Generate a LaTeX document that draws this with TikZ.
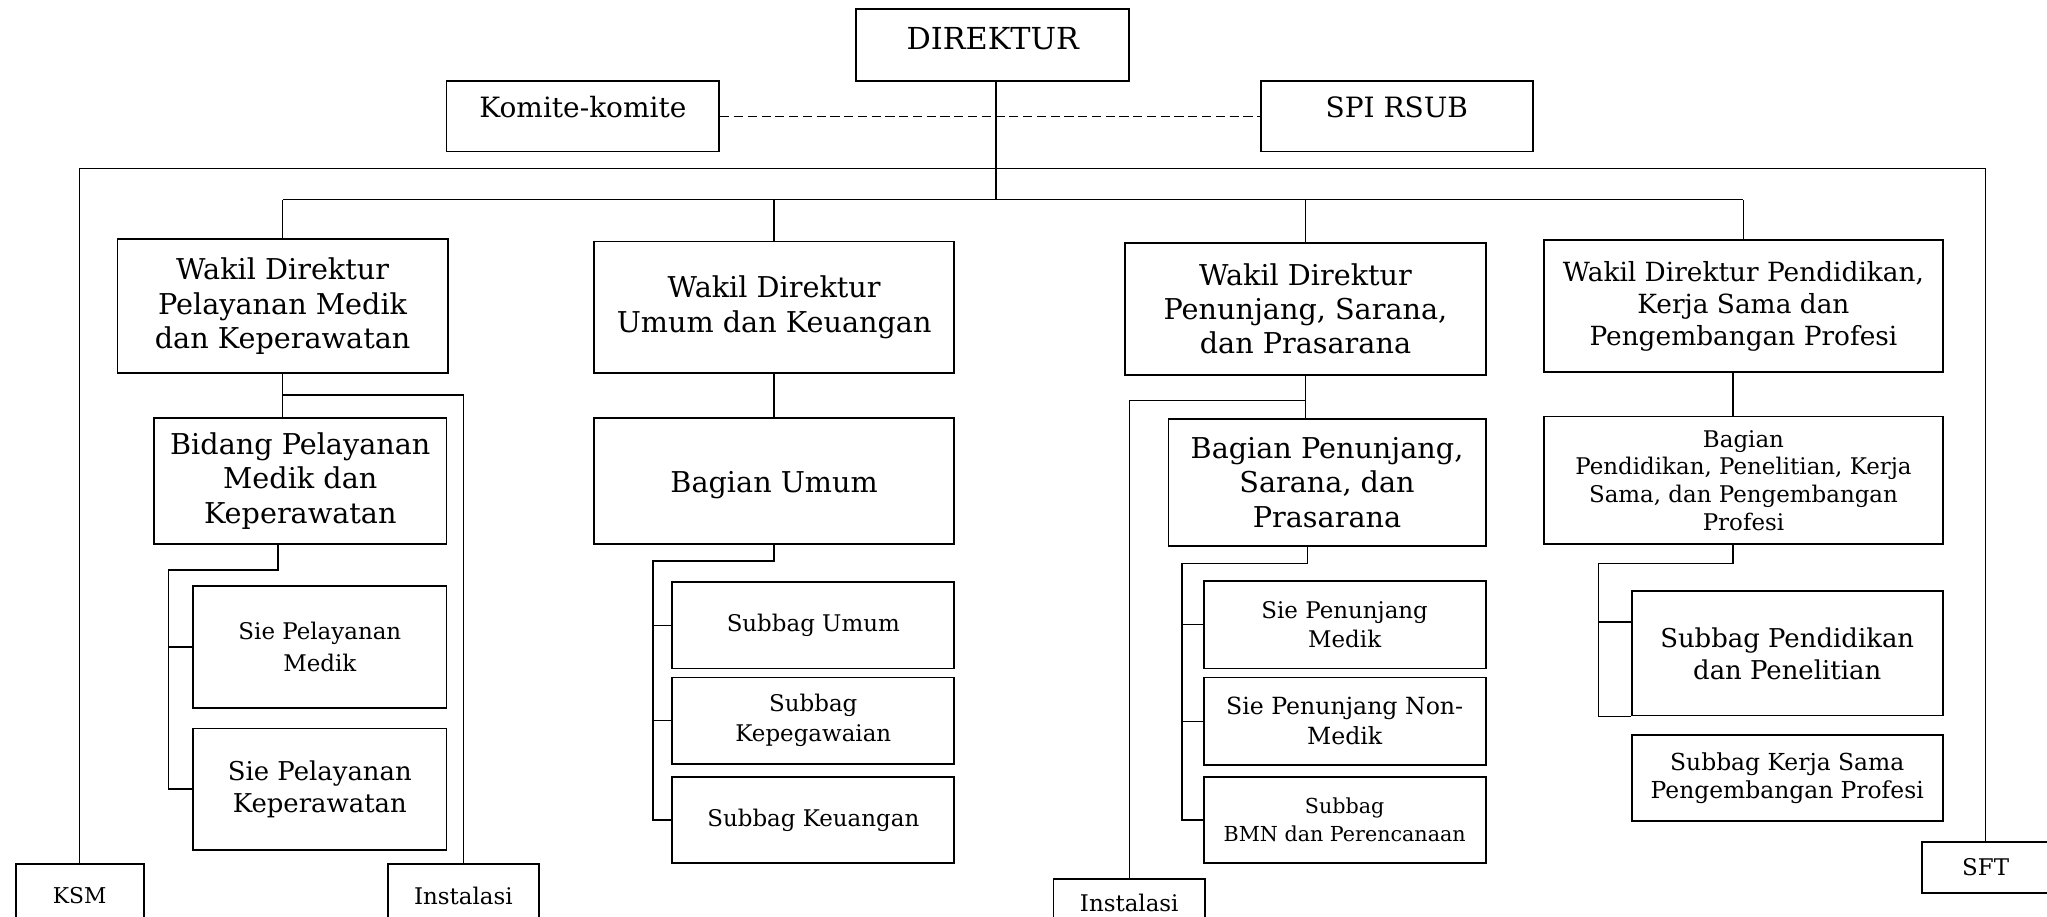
\documentclass[tikz,border=0pt]{standalone}
\usepackage{fontspec}
\setmainfont{DejaVu Serif}
\usetikzlibrary{positioning,calc}

\begin{document}
\begin{tikzpicture}[x=0.2mm,y=-0.2mm,
	box/.style={draw,line width=0.8pt,align=center,inner sep=1pt},
	wh/.style 2 args={minimum width=#1*0.2mm,minimum height=#2*0.2mm},
	big/.style={font=\fontsize{12.5}{15}\selectfont},
	mid/.style={font=\fontsize{11.3}{14}\selectfont},
	small/.style={font=\fontsize{10}{13}\selectfont},
	tiny/.style={font=\fontsize{9}{12}\selectfont},
	link/.style={line width=0.6pt}]
	\useasboundingbox (0,0) rectangle (1568,702);
	\clip (0,0) rectangle (1568,702);
	% top level
	\node[box,font=\fontsize{13.2}{16}\selectfont,text depth=5.5pt,wh={209}{55}] (dir) at (760.5,34.5) {DIREKTUR};
	\node[box,font=\fontsize{12.2}{15}\selectfont,text depth=8pt,wh={209}{54}] (komite) at (446.5,89) {Komite-komite};
	\node[box,font=\fontsize{12.2}{15}\selectfont,text depth=8pt,wh={208}{54}] (spi) at (1070,89) {SPI RSUB};
	% wakil direktur
	\node[box,big,wh={253}{103}] (wd_1) at (216.5,234.5) {Wakil Direktur\\Pelayanan Medik\\dan Keperawatan};
	\node[box,big,wh={276}{101}] (wd_2) at (593,235.5) {Wakil Direktur\\Umum dan Keuangan};
	\node[box,big,wh={276}{101}] (wd_3) at (1000,236.5) {Wakil Direktur\\Penunjang, Sarana,\\dan Prasarana};
	\node[box,mid,font=\fontsize{11.5}{14}\selectfont,wh={305}{101}] (wd_4) at (1335.5,234.5) {Wakil Direktur Pendidikan,\\Kerja Sama dan\\Pengembangan Profesi};
	% bidang / bagian
	\node[box,big,wh={224}{97}] (bidang) at (230,368.5) {Bidang Pelayanan\\Medik dan\\Keperawatan};
	\node[box,big,text height=13pt,wh={276}{97}] (bag_umum) at (593,368.5) {Bagian Umum};
	\node[box,big,wh={243}{97}] (bag_pen) at (1016.5,369.5) {Bagian Penunjang,\\Sarana, dan\\Prasarana};
	\node[box,small,font=\fontsize{10}{12}\selectfont,wh={305}{98}] (bag_dik) at (1335.5,368) {Bagian\\Pendidikan, Penelitian, Kerja\\Sama, dan Pengembangan\\Profesi};
	% sie / subbag
	\node[box,small,font=\fontsize{10}{13.7}\selectfont,wh={194}{93}] (sie_1) at (245,495.5) {Sie Pelayanan\\Medik};
	\node[box,mid,wh={194}{93}] (sie_2) at (245,604.5) {Sie Pelayanan\\Keperawatan};
	\node[box,small,wh={216}{66}] (sub_umum) at (623,479) {Subbag Umum};
	\node[box,small,wh={216}{66}] (sub_peg) at (623,552) {Subbag\\Kepegawaian};
	\node[box,small,wh={216}{66}] (sub_keu) at (623,628) {Subbag Keuangan};
	\node[box,small,wh={216}{67}] (sie_pm) at (1030,478.5) {Sie Penunjang\\Medik};
	\node[box,small,font=\fontsize{10.3}{13}\selectfont,wh={216}{67}] (sie_pnm) at (1030,552.5) {Sie Penunjang Non-\\Medik};
	\node[box,tiny,wh={216}{66}] (sub_bmn) at (1030,628) {Subbag\\BMN dan Perencanaan};
	\node[box,mid,wh={238}{95}] (sub_dik) at (1369,500.5) {Subbag Pendidikan\\dan Penelitian};
	\node[box,small,font=\fontsize{10.2}{12.5}\selectfont,wh={238}{66}] (sub_ks) at (1369,596) {Subbag Kerja Sama\\Pengembangan Profesi};
	% bottom boxes
	\node[box,small,font=\fontsize{9.5}{12}\selectfont,wh={98}{48}] (ksm) at (61,686) {KSM};
	\node[box,small,wh={116}{48}] (inst_1) at (355,686) {Instalasi};
	\node[box,small,wh={116}{38}] (inst_2) at (865,692) {Instalasi};
	\node[box,small,wh={98}{39}] (sft) at (1521,664.5) {SFT};

	\coordinate (top_bus) at (763,129);
	\coordinate (wd_bus) at (763,153);
	% director lines
	\draw[link] (dir.south -| top_bus) -- (wd_bus);
	\draw[link,dash pattern=on 4pt off 2pt] (komite.east) -- (spi.west);
	\draw[link] (ksm.north) -- (ksm.north |- top_bus) -- (sft.north |- top_bus) -- (sft.north);
	\draw[link] (wd_1.north |- wd_bus) -- (wd_4.north |- wd_bus);
	\draw[link] (wd_1.north) -- (wd_1.north |- wd_bus);
	\draw[link] (wd_2.north) -- (wd_2.north |- wd_bus);
	\draw[link] (wd_3.north) -- (wd_3.north |- wd_bus);
	\draw[link] (wd_4.north) -- (wd_4.north |- wd_bus);
	% pelayanan
	\draw[link] (wd_1.south) -- (wd_1.south |- bidang.north);
	\draw[link] (wd_1.south) ++(0,16) -| (inst_1.north);
	\draw[link] ($(bidang.south)+(-17,0)$) -- ++(0,19) -| ($(sie_2.west)+(-18,0)$) -- (sie_2.west);
	\draw[link] (sie_1.west) -- ++(-18,0);
	% umum
	\draw[link] (wd_2.south) -- (bag_umum.north);
	\draw[link] (bag_umum.south) -- ++(0,12) -| ($(sub_keu.west)+(-14,0)$) -- (sub_keu.west);
	\draw[link] (sub_umum.west) -- ++(-14,0);
	\draw[link] (sub_peg.west) -- ++(-14,0);
	% penunjang
	\draw[link] (wd_3.south) -- (wd_3.south |- bag_pen.north);
	\draw[link] (wd_3.south) ++(0,19) -| (inst_2.north);
	\draw[link] ($(bag_pen.south)+(-15,0)$) -- ++(0,13) -| ($(sub_bmn.west)+(-16,0)$) -- (sub_bmn.west);
	\draw[link] (sie_pm.west) -- ++(-16,0);
	\draw[link] (sie_pnm.west) -- ++(-16,0);
	% pendidikan
	\draw[link] ($(wd_4.south)+(-8,0)$) -- ($(bag_dik.north)+(-8,0)$);
	\draw[link] ($(bag_dik.south)+(-8,0)$) -- ++(0,14) -| ($(sub_dik.south west)+(-25,0)$) -- (sub_dik.south west);
	\draw[link] ($(sub_dik.west)+(0,-24)$) -- ++(-25,0);
\end{tikzpicture}
\end{document}
